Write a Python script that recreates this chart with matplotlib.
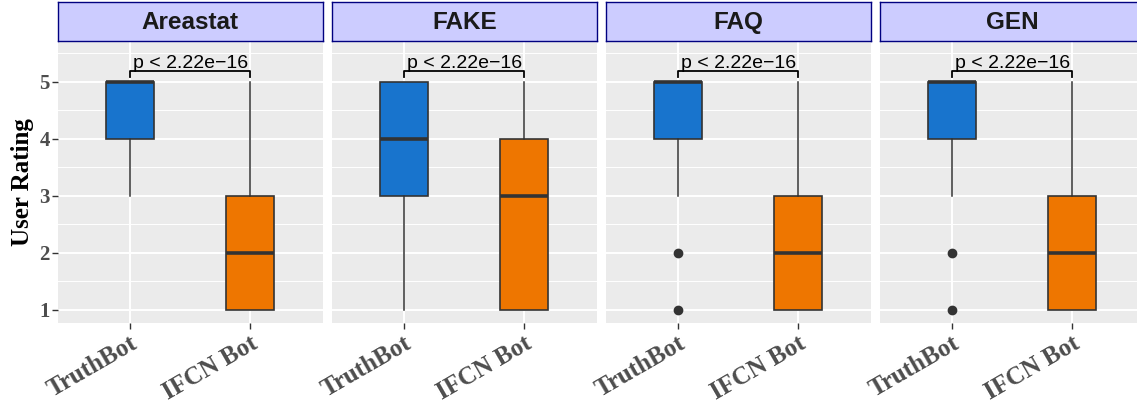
import matplotlib
matplotlib.use("Agg")
import matplotlib.pyplot as plt
import matplotlib.transforms as mtransforms

# ── data ────────────────────────────────────────────────────────────────────
categories = ["Areastat", "FAKE", "FAQ", "GEN"]
bots = ["TruthBot", "IFCN Bot"]

truth_lo  = [3, 1, 3, 3]
truth_q1  = [4, 3, 4, 4]
truth_med = [5, 4, 5, 5]
truth_q3  = [5, 5, 5, 5]
truth_hi  = [5, 5, 5, 5]
truth_out = [[], [], [2, 1], [2, 1]]

ifcn_lo  = [1, 1, 1, 1]
ifcn_q1  = [1, 1, 1, 1]
ifcn_med = [2, 3, 2, 2]
ifcn_q3  = [3, 4, 3, 3]
ifcn_hi  = [5, 5, 5, 5]
ifcn_out = [[], [], [], []]

p_labels = ["p < 2.22e\u221216"] * 4
y_ticks = [1, 2, 3, 4, 5]

BLUE, ORANGE = "#1874CD", "#EE7600"
INK, GREY = "#333333", "#4D4D4D"
PANEL_BG, STRIP_BG, STRIP_EDGE = "#EBEBEB", "#CCCCFF", "#000080"

W, H = 1137, 403
fig = plt.figure(figsize=(W / 100, H / 100), dpi=100)

lefts = [58, 332, 606, 880]
pw = 264.5
p_top, p_bot = 41, 323
s_top, s_bot = 2, 40.5

for k, cat in enumerate(categories):
    x0 = lefts[k]
    ax = fig.add_axes([x0 / W, (H - p_bot) / H, pw / W, (p_bot - p_top) / H])
    ax.set_facecolor(PANEL_BG)
    for sp in ax.spines.values():
        sp.set_visible(False)
    ax.set_axisbelow(True)

    stats = [
        dict(whislo=truth_lo[k], q1=truth_q1[k], med=truth_med[k], q3=truth_q3[k],
             whishi=truth_hi[k], fliers=truth_out[k], label=bots[0]),
        dict(whislo=ifcn_lo[k], q1=ifcn_q1[k], med=ifcn_med[k], q3=ifcn_q3[k],
             whishi=ifcn_hi[k], fliers=ifcn_out[k], label=bots[1]),
    ]
    bp = ax.bxp(stats, positions=[1, 2], widths=0.4, patch_artist=True,
                showcaps=False, manage_ticks=False,
                boxprops=dict(edgecolor=INK, linewidth=1.2),
                medianprops=dict(color=INK, linewidth=2.6, solid_capstyle="butt"),
                whiskerprops=dict(color=INK, linewidth=1.1),
                flierprops=dict(marker="o", markerfacecolor=INK, markeredgecolor=INK,
                                markersize=6))
    for patch, col in zip(bp["boxes"], [BLUE, ORANGE]):
        patch.set_facecolor(col)

    ax.set_xlim(0.4, 2.6)
    ax.set_ylim(0.772, 5.714)

    # grid
    ax.set_yticks(y_ticks)
    ax.set_yticks([1.5, 2.5, 3.5, 4.5, 5.5], minor=True)
    ax.set_xticks([1, 2])
    ax.grid(True, which="major", color="white", linewidth=1.4)
    ax.grid(True, which="minor", axis="y", color="white", linewidth=0.7)
    ax.tick_params(axis="both", which="minor", length=0)

    # significance bracket
    ax.plot([1, 1, 2, 2], [5.09, 5.19, 5.19, 5.09], color="black", linewidth=1.3,
            clip_on=False, zorder=4)
    ax.text(1.5, 5.235, p_labels[k], ha="center", va="baseline", fontsize=14,
            family="Liberation Sans", color="black")

    # ticks
    ax.set_xticklabels(bots, rotation=30, ha="right", va="top", rotation_mode="anchor",
                       fontsize=18, fontweight="bold", family="Liberation Serif",
                       color=GREY)
    off = mtransforms.ScaledTranslation(0.08, -0.07, fig.dpi_scale_trans)
    for lab in ax.get_xticklabels():
        lab.set_transform(lab.get_transform() + off)
    ax.tick_params(axis="x", which="major", length=4, width=1, color=INK, pad=2)
    if k == 0:
        ax.set_yticklabels([str(v) for v in y_ticks], fontsize=15, fontweight="bold",
                           family="Liberation Serif", color=GREY)
        ax.tick_params(axis="y", which="major", length=4, width=1, color=INK, pad=2)
    else:
        ax.tick_params(axis="y", which="major", length=0, labelleft=False)

    # strip
    sax = fig.add_axes([x0 / W, (H - s_bot) / H, pw / W, (s_bot - s_top) / H])
    sax.set_facecolor(STRIP_BG)
    sax.set_xticks([]); sax.set_yticks([])
    for sp in sax.spines.values():
        sp.set_color(STRIP_EDGE)
        sp.set_linewidth(1.0)
    sax.text(0.5, 0.47, cat, transform=sax.transAxes, ha="center", va="center",
             fontsize=17.5, fontweight="bold", family="Liberation Sans", color="#1A1A1A")

fig.text(22 / W, (H - 182) / H, "User Rating", rotation=90, ha="center", va="center",
         fontsize=18, fontweight="bold", family="Liberation Serif", color="black")

fig.savefig("out.png", dpi=100, facecolor="white")
